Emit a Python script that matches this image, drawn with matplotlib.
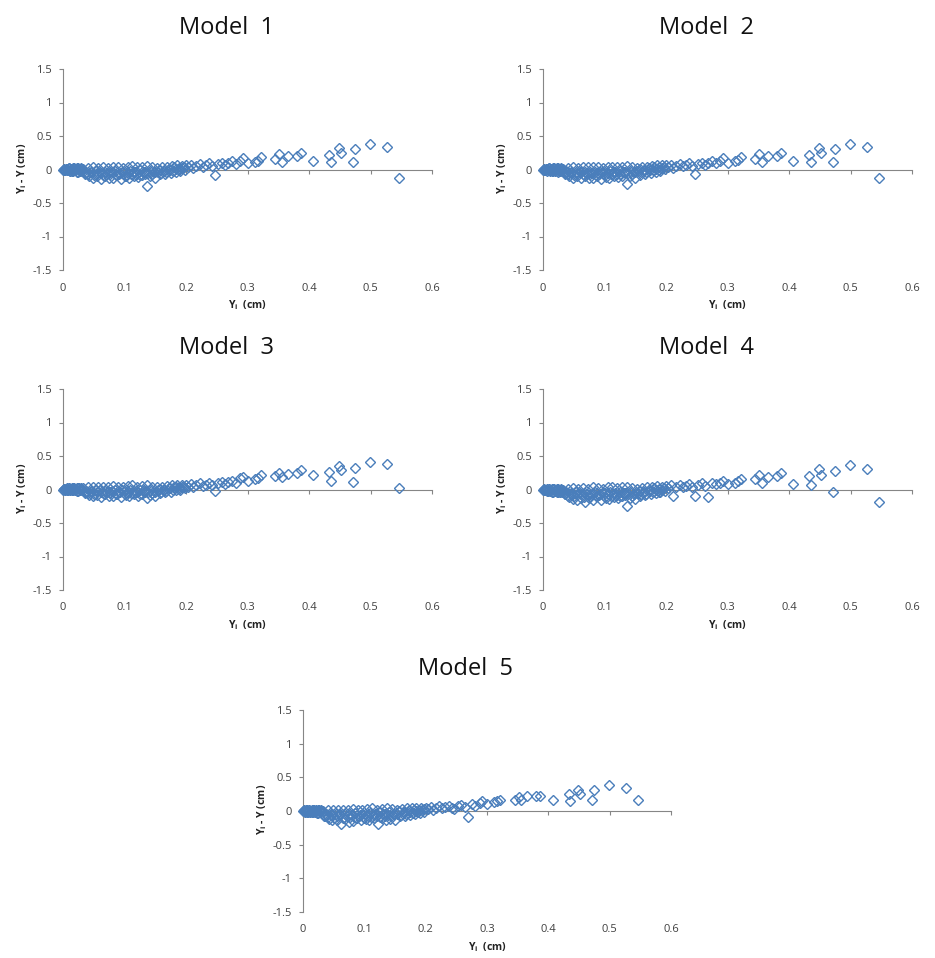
import matplotlib
matplotlib.use('Agg')
import matplotlib.pyplot as plt

plt.rcParams['font.family'] = ['Open Sans', 'DejaVu Sans']
plt.rcParams['mathtext.fontset'] = 'custom'
plt.rcParams['mathtext.rm'] = 'Open Sans'
plt.rcParams['mathtext.bf'] = 'Open Sans:bold'
plt.rcParams['mathtext.it'] = 'Open Sans:italic'

titles = ['Model  1', 'Model  2', 'Model  3', 'Model  4', 'Model  5']
x_ticks = [0, 0.1, 0.2, 0.3, 0.4, 0.5, 0.6]
x_tick_labels = ['0', '0.1', '0.2', '0.3', '0.4', '0.5', '0.6']
y_ticks = [-1.5, -1, -0.5, 0, 0.5, 1, 1.5]
y_tick_labels = ['-1.5', '-1', '-0.5', '0', '0.5', '1', '1.5']
x_label = r'$\mathbf{Y_i}$' + '  (cm)'
y_label = r'$\mathbf{Y_i}$' + ' - Y (cm)'

# observed values Y_i (cm), shared by all models
x_obs = [0.000, 0.002, 0.004, 0.006, 0.008, 0.010, 0.012, 0.014, 0.016, 0.018, 0.020, 0.022, 0.024, 0.026, 0.028, 0.030,
         0.033, 0.037, 0.041, 0.045, 0.049, 0.053, 0.057, 0.061, 0.065, 0.069, 0.073, 0.077, 0.081, 0.085, 0.089, 0.093,
         0.097, 0.101, 0.105, 0.109, 0.113, 0.117, 0.121, 0.125, 0.129, 0.133, 0.137, 0.141, 0.145, 0.149, 0.153, 0.157,
         0.161, 0.165, 0.169, 0.173, 0.177, 0.181, 0.185, 0.189, 0.193, 0.197,
         0.035, 0.043, 0.048, 0.055, 0.062, 0.068, 0.075, 0.082, 0.088, 0.095, 0.102, 0.108, 0.115, 0.122, 0.128, 0.136,
         0.142, 0.150, 0.158, 0.166, 0.175, 0.183, 0.190,
         0.200, 0.204, 0.208, 0.212, 0.217, 0.222, 0.227, 0.232, 0.238, 0.243, 0.247, 0.252, 0.258, 0.264, 0.269, 0.275,
         0.281, 0.288, 0.292, 0.300, 0.312, 0.317, 0.322, 0.345, 0.352, 0.356, 0.366, 0.380, 0.387, 0.407, 0.433, 0.436,
         0.448, 0.452, 0.471, 0.474, 0.4995, 0.527, 0.546,
         0.001, 0.003, 0.005, 0.007, 0.009, 0.011, 0.013, 0.015, 0.017, 0.019, 0.021, 0.023, 0.025, 0.027, 0.029,
         0.031, 0.036, 0.040, 0.046, 0.051, 0.056, 0.060, 0.066, 0.071, 0.076, 0.080, 0.086, 0.091, 0.096, 0.100, 0.106,
         0.111, 0.116, 0.120, 0.126, 0.131, 0.134, 0.139, 0.144, 0.148, 0.154, 0.159, 0.164, 0.168, 0.174, 0.179, 0.184,
         0.188, 0.194, 0.198]

res_m1 = [0.00, 0.01, -0.01, 0.01, -0.01, 0.02, -0.02, 0.01, -0.02, 0.02, -0.01, 0.02, -0.03, 0.01, -0.02, 0.02,
          0.01, -0.03, 0.02, -0.04, 0.03, -0.02, 0.02, -0.05, 0.03, -0.03, 0.02, -0.04, 0.04, -0.02, 0.03, -0.05,
          0.02, -0.03, 0.04, -0.02, 0.05, -0.04, 0.03, -0.01, 0.04, -0.03, 0.05, -0.02, 0.03, -0.04, 0.02, 0.00,
          0.03, -0.02, 0.04, 0.01, 0.05, 0.03, 0.06, 0.02, 0.05, 0.03,
          -0.06, -0.09, -0.12, -0.10, -0.14, -0.09, -0.12, -0.13, -0.08, -0.14, -0.10, -0.12, -0.09, -0.11, -0.08, -0.25,
          -0.10, -0.13, -0.07, -0.06, -0.05, -0.03, -0.02,
          0.06, 0.03, 0.07, 0.02, 0.05, 0.08, 0.04, 0.06, 0.09, 0.05, -0.075, 0.08, 0.10, 0.06, 0.10, 0.12,
          0.08, 0.124, 0.174, 0.10, 0.114, 0.134, 0.189, 0.159, 0.224, 0.114, 0.199, 0.199, 0.249, 0.134, 0.209, 0.114,
          0.323, 0.239, 0.11, 0.308, 0.388, 0.338, -0.124,
          0.00, -0.01, 0.01, -0.01, 0.02, -0.02, 0.01, -0.02, 0.02, -0.01, 0.01, -0.03, 0.02, -0.02, 0.01,
          -0.02, -0.05, -0.07, -0.04, -0.08, -0.06, -0.03, -0.09, -0.05, -0.07, -0.04, -0.08, -0.06, -0.03, -0.09, -0.05,
          -0.07, -0.04, -0.06, -0.08, -0.03, -0.06, -0.05, -0.07, -0.04, -0.03, -0.05, -0.02, -0.04, 0.00, -0.02, 0.01,
          -0.01, 0.02, 0.00]

res_m2 = [0.00, 0.01, -0.01, 0.01, -0.01, 0.02, -0.02, 0.01, -0.02, 0.02, -0.01, 0.02, -0.03, 0.01, -0.02, 0.02,
          0.01, -0.02, 0.02, -0.05, 0.03, -0.03, 0.02, -0.04, 0.03, -0.03, 0.03, -0.04, 0.04, -0.03, 0.03, -0.04,
          0.02, -0.03, 0.04, -0.02, 0.04, -0.04, 0.03, -0.02, 0.04, -0.03, 0.05, -0.02, 0.04, -0.03, 0.02, 0.01,
          0.03, -0.01, 0.04, 0.02, 0.05, 0.03, 0.06, 0.03, 0.06, 0.04,
          -0.06, -0.10, -0.13, -0.10, -0.13, -0.10, -0.12, -0.12, -0.09, -0.14, -0.11, -0.12, -0.10, -0.11, -0.09, -0.21,
          -0.10, -0.12, -0.08, -0.07, -0.05, -0.03, -0.02,
          0.06, 0.04, 0.07, 0.02, 0.05, 0.08, 0.05, 0.07, 0.09, 0.05, -0.07, 0.08, 0.10, 0.07, 0.10, 0.12,
          0.09, 0.124, 0.174, 0.10, 0.12, 0.14, 0.189, 0.159, 0.224, 0.114, 0.199, 0.199, 0.249, 0.134, 0.209, 0.114,
          0.323, 0.239, 0.11, 0.308, 0.388, 0.338, -0.124,
          0.00, -0.01, 0.01, -0.02, 0.02, -0.01, 0.01, -0.02, 0.02, -0.02, 0.01, -0.02, 0.02, -0.02, 0.01,
          -0.02, -0.05, -0.06, -0.04, -0.08, -0.06, -0.04, -0.08, -0.05, -0.07, -0.05, -0.08, -0.06, -0.04, -0.08, -0.05,
          -0.06, -0.04, -0.06, -0.07, -0.03, -0.05, -0.05, -0.06, -0.04, -0.02, -0.04, -0.02, -0.03, 0.00, -0.01, 0.01,
          0.00, 0.02, 0.01]

res_m3 = [0.00, 0.01, 0.00, 0.02, -0.01, 0.02, -0.01, 0.02, -0.01, 0.02, 0.00, 0.02, -0.02, 0.02, -0.01, 0.02,
          0.02, -0.02, 0.03, -0.03, 0.04, -0.01, 0.03, -0.04, 0.04, -0.02, 0.03, -0.03, 0.05, -0.01, 0.04, -0.04,
          0.03, -0.02, 0.05, -0.01, 0.06, -0.03, 0.04, 0.00, 0.05, -0.02, 0.06, -0.01, 0.04, -0.03, 0.03, 0.01,
          0.04, -0.01, 0.05, 0.02, 0.06, 0.04, 0.07, 0.03, 0.06, 0.04,
          -0.05, -0.08, -0.10, -0.08, -0.11, -0.07, -0.10, -0.10, -0.06, -0.11, -0.08, -0.10, -0.07, -0.09, -0.06, -0.12,
          -0.08, -0.10, -0.05, -0.04, -0.03, -0.01, 0.00,
          0.07, 0.04, 0.08, 0.03, 0.06, 0.09, 0.05, 0.07, 0.10, 0.06, -0.025, 0.09, 0.11, 0.08, 0.11, 0.13,
          0.10, 0.17, 0.19, 0.12, 0.16, 0.174, 0.21, 0.20, 0.249, 0.189, 0.224, 0.239, 0.289, 0.209, 0.259, 0.124,
          0.358, 0.289, 0.114, 0.323, 0.408, 0.388, 0.025,
          0.01, 0.00, 0.01, -0.01, 0.02, -0.01, 0.01, -0.01, 0.02, 0.00, 0.01, -0.02, 0.02, -0.01, 0.01,
          -0.01, -0.03, -0.05, -0.02, -0.06, -0.04, -0.01, -0.07, -0.03, -0.05, -0.02, -0.06, -0.04, -0.01, -0.07, -0.03,
          -0.05, -0.02, -0.04, -0.06, -0.01, -0.04, -0.03, -0.05, -0.02, -0.01, -0.03, 0.00, -0.02, 0.02, 0.00, 0.03,
          0.01, 0.04, 0.02]

res_m4 = [0.00, 0.01, -0.01, 0.01, -0.02, 0.01, -0.02, 0.01, -0.03, 0.01, -0.02, 0.01, -0.03, 0.00, -0.03, 0.01,
          0.00, -0.04, 0.01, -0.05, 0.02, -0.04, 0.01, -0.06, 0.02, -0.05, 0.01, -0.06, 0.03, -0.04, 0.02, -0.06,
          0.01, -0.05, 0.03, -0.04, 0.04, -0.05, 0.02, -0.03, 0.03, -0.05, 0.04, -0.03, 0.02, -0.05, 0.01, -0.02,
          0.02, -0.03, 0.03, 0.00, 0.04, 0.02, 0.05, 0.01, 0.04, 0.02,
          -0.07, -0.11, -0.14, -0.16, -0.13, -0.19, -0.12, -0.15, -0.10, -0.16, -0.12, -0.14, -0.11, -0.13, -0.10, -0.25,
          -0.12, -0.14, -0.09, -0.08, -0.07, -0.05, -0.04,
          0.05, 0.02, 0.06, -0.10, 0.04, 0.07, 0.03, 0.05, 0.08, 0.04, -0.10, 0.07, 0.09, 0.05, -0.114, 0.10,
          0.08, 0.09, 0.13, 0.08, 0.10, 0.12, 0.16, 0.159, 0.209, 0.10, 0.19, 0.20, 0.239, 0.085, 0.199, 0.06,
          0.308, 0.209, -0.035, 0.274, 0.373, 0.313, -0.184,
          0.00, -0.01, 0.00, -0.02, 0.01, -0.02, 0.00, -0.03, 0.01, -0.02, 0.00, -0.03, 0.01, -0.03, 0.00,
          -0.03, -0.07, -0.09, -0.06, -0.10, -0.08, -0.05, -0.11, -0.07, -0.09, -0.06, -0.10, -0.08, -0.05, -0.11, -0.07,
          -0.09, -0.06, -0.08, -0.10, -0.05, -0.08, -0.07, -0.09, -0.06, -0.05, -0.07, -0.04, -0.06, -0.02, -0.04, -0.01,
          -0.03, 0.00, -0.02]

res_m5 = [0.00, 0.01, -0.01, 0.01, -0.01, 0.01, -0.02, 0.01, -0.02, 0.01, -0.02, 0.01, -0.03, 0.01, -0.02, 0.01,
          0.00, -0.04, 0.01, -0.05, 0.02, -0.04, 0.01, -0.06, 0.02, -0.04, 0.01, -0.05, 0.03, -0.03, 0.02, -0.06,
          0.01, -0.04, 0.03, -0.03, 0.04, -0.05, 0.02, -0.02, 0.03, -0.04, 0.04, -0.02, 0.03, -0.04, 0.02, 0.00,
          0.03, -0.02, 0.04, 0.01, 0.05, 0.02, 0.05, 0.02, 0.05, 0.03,
          -0.07, -0.12, -0.13, -0.14, -0.19, -0.12, -0.17, -0.15, -0.11, -0.14, -0.12, -0.13, -0.11, -0.19, -0.10, -0.14,
          -0.12, -0.13, -0.08, -0.07, -0.06, -0.04, -0.03,
          0.05, 0.03, 0.06, 0.02, 0.05, 0.07, 0.04, 0.06, 0.08, 0.05, 0.03, 0.07, 0.09, 0.06, -0.09, 0.11,
          0.08, 0.12, 0.15, 0.10, 0.13, 0.15, 0.17, 0.17, 0.21, 0.17, 0.219, 0.219, 0.219, 0.169, 0.249, 0.149,
          0.318, 0.259, 0.169, 0.318, 0.388, 0.338, 0.159,
          0.00, -0.01, 0.01, -0.02, 0.01, -0.02, 0.00, -0.02, 0.01, -0.02, 0.00, -0.03, 0.01, -0.02, 0.00,
          -0.03, -0.07, -0.09, -0.06, -0.11, -0.08, -0.05, -0.11, -0.08, -0.09, -0.06, -0.10, -0.08, -0.05, -0.11, -0.07,
          -0.09, -0.06, -0.08, -0.09, -0.05, -0.08, -0.06, -0.08, -0.05, -0.04, -0.06, -0.03, -0.05, -0.01, -0.03, 0.00,
          -0.02, 0.01, -0.01]

residuals = [res_m1, res_m2, res_m3, res_m4, res_m5]

W, H = 935, 958
# axes boxes in pixels: left, top, right, bottom
boxes = [(63, 69, 432, 270), (543, 69, 912, 270), (63, 389, 432, 590),
         (543, 389, 912, 590), (303, 710, 671, 912)]

gray = '#868686'
text_col = '#404040'
marker_col = '#4a7ebb'

fig = plt.figure(figsize=(W / 100, H / 100), dpi=100)
fig.patch.set_facecolor('white')

for title, res, (l, t, r, b) in zip(titles, residuals, boxes):
    ax = fig.add_axes([l / W, 1 - b / H, (r - l) / W, (b - t) / H])
    ax.plot(x_obs, res, linestyle='none', marker='D', ms=5.0, mfc='none',
            mec=marker_col, mew=1.0, clip_on=False, zorder=3)
    ax.set_xlim(0, 0.6)
    ax.set_ylim(-1.5, 1.5)
    ax.spines['top'].set_visible(False)
    ax.spines['right'].set_visible(False)
    ax.spines['bottom'].set_position(('data', 0))
    for s in ('left', 'bottom'):
        ax.spines[s].set_color(gray)
        ax.spines[s].set_linewidth(0.8)
    ax.set_xticks(x_ticks)
    ax.tick_params(axis='x', direction='out', length=3, width=0.8, color=gray,
                   labelbottom=False)
    ax.set_yticks(y_ticks)
    ax.set_yticklabels(y_tick_labels)
    ax.tick_params(axis='y', direction='out', length=3, width=0.8, color=gray,
                   labelsize=8, labelcolor=text_col, pad=5)
    sec = ax.secondary_xaxis('bottom')
    sec.set_xticks(x_ticks, labels=x_tick_labels)
    sec.spines['bottom'].set_visible(False)
    sec.tick_params(length=0, pad=9, labelsize=8, labelcolor=text_col)
    ax.annotate(x_label, xy=(0.5, 0), xycoords='axes fraction', xytext=(0, -25),
                textcoords='offset points', ha='center', va='center',
                fontsize=7.5, fontweight='bold', color='#222222')
    ax.annotate(y_label, xy=(0, 0.5), xycoords='axes fraction', xytext=(-29.5, 1),
                textcoords='offset points', ha='center', va='center', rotation=90,
                fontsize=7.5, fontweight='bold', color='#222222')
    fig.text(((l + r) / 2 - 21) / W, 1 - (t - 41) / H, title, ha='center', va='center',
             fontsize=17, color='#111111')

fig.savefig('out.png', dpi=100, facecolor='white')
